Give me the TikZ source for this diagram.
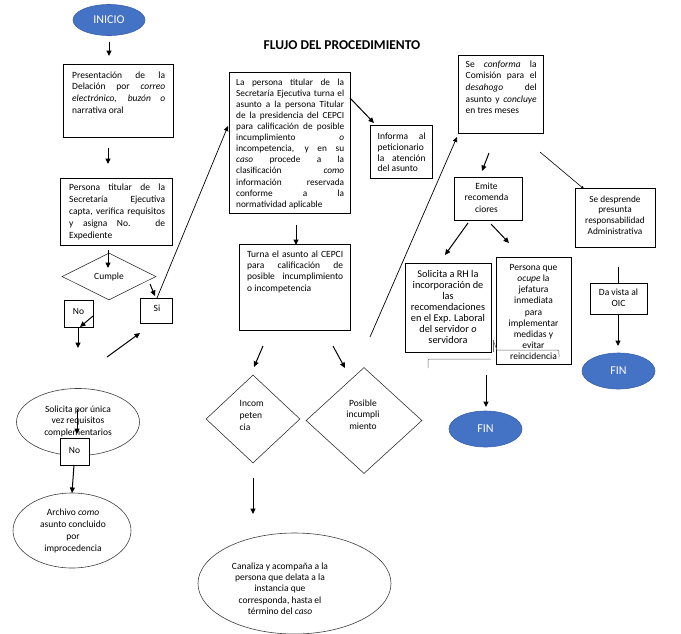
\documentclass[tikz,border=0pt]{standalone}
\usepackage{fontspec}
\setmainfont{Carlito}
\usetikzlibrary{shapes.geometric,arrows.meta}
\definecolor{termblue}{HTML}{4472C4}
\definecolor{termedge}{HTML}{3A62AA}
\newcommand{\fsz}[1]{\fontsize{9.5}{#1}\selectfont}
\newcommand{\fszs}[2]{\fontsize{#1}{#2}\selectfont}
\tolerance=10000
\hbadness=10000
\hfuzz=3pt
\begin{document}
\begin{tikzpicture}[x=1pt,y=-1pt,
  box/.style={draw=black,line width=0.8pt,inner sep=0,anchor=north west},
  txt/.style={inner sep=0,anchor=north west,align=justify,font=\fsz{11.3}},
  ctxt/.style={inner sep=0,anchor=north,align=center,font=\fsz{11.3}},
  lbl/.style={inner sep=0,font=\fsz{11}},
  arr/.style={line width=1pt,-{Triangle[length=5.5pt,width=5pt]}},
  thinarr/.style={line width=0.7pt,-{Triangle[length=5pt,width=4.5pt]}},
  dia/.style={diamond,draw=black!85,line width=0.55pt,inner sep=0},
  oval/.style={ellipse,draw=black!75,line width=0.6pt,inner sep=0},
  term/.style={ellipse,fill=termblue,draw=termedge,line width=0.6pt,text=white,font=\fontsize{12}{14}\selectfont,inner sep=0},
  glitch/.style={draw=black!60,line width=0.5pt}
]
\useasboundingbox[fill=white] (0,0) rectangle (681,633);

% title
\node[font=\bfseries\fontsize{13.5}{15}\selectfont,inner sep=0] (title) at (342,45) {FLUJO DEL PROCEDIMIENTO};

% left column
\node[term,minimum width=72,minimum height=31] (inicio) at (109,20) {INICIO};

\node[box,minimum width=110,minimum height=73] (b1) at (63,64) {};
\node[txt,text width=93,font=\fsz{11.7}] (b1t) at (72,71.3) {Presentación de la\linebreak Delación por \textit{correo}\linebreak \textit{electrónico, buzón o}\linebreak narrativa oral};

\node[box,minimum width=112,minimum height=67] (b2) at (60,178) {};
\node[txt,text width=96,font=\fsz{12.2}] (b2t) at (69,183.3) {Persona titular de la\linebreak Secretaría Ejecutiva\linebreak capta, verifica requisitos\linebreak y asigna No. de\linebreak Expediente};

\node[dia,minimum width=94,minimum height=47,font=\fsz{11}] (cumple) at (109,276.5) {Cumple};

\node[box,minimum width=32,minimum height=25] (si) at (140,298) {};
\node[lbl] (sit) at (157,308.5) {Si};
\node[box,minimum width=29,minimum height=27] (no1) at (64,300) {};
\node[lbl] (no1t) at (78.5,311.5) {No};

\node[oval,minimum width=123,minimum height=67] (sol) at (78,422) {};
\node[ctxt,font=\fsz{11.5}] (solt) at (78,405.3) {Solicita por única\\ vez requisitos\\ complementarios};
\node[box,minimum width=29,minimum height=27,fill=white] (no2) at (60,438) {};
\node[lbl] (no2t) at (74.5,450) {No};

\node[oval,minimum width=118,minimum height=75] (arch) at (72,530.5) {};
\node[ctxt,font=\fsz{12}] (archt) at (73,508.3) {Archivo \textit{como}\\ asunto concluido\\ por\\ improcedencia};

% centre column
\node[box,minimum width=121,minimum height=141] (b3) at (229,72) {};
\node[txt,text width=108,font=\fszs{9.3}{11.1}] (b3t) at (236,78.5) {La persona titular de la\linebreak Secretaría Ejecutiva turna el\linebreak asunto a la persona Titular\linebreak de la presidencia del CEPCI\linebreak para calificación de posible\linebreak incumplimiento \textit{o}\linebreak incompetencia, y en su\linebreak \textit{caso} procede a la\linebreak clasificación \textit{como}\linebreak información reservada\linebreak conforme a la\linebreak normatividad aplicable};

\node[box,minimum width=62,minimum height=53] (inf) at (370,125) {};
\node[txt,text width=48,font=\fsz{10.8}] (inft) at (377.5,132.7) {Informa al\linebreak peticionario\linebreak la atención\linebreak del asunto};

\node[box,minimum width=111,minimum height=86] (b4) at (239,244) {};
\node[txt,text width=96,font=\fsz{11.3}] (b4t) at (247,250.3) {Turna el asunto al CEPCI\linebreak para calificación de\linebreak posible incumplimiento\linebreak o incompetencia};

\node[dia,minimum width=94,minimum height=88] (d1) at (253,419) {};
\node[inner sep=0,anchor=north west,align=left,font=\fsz{11.8}] (d1t) at (239.5,400.3) {Incom\\ peten\\ cia};

\node[dia,minimum width=116,minimum height=106] (d2) at (364,420.5) {};
\node[ctxt,font=\fsz{11.5}] (d2t) at (363,399.3) {Posible\\ incumpli\\ miento};

\node[oval,minimum width=193,minimum height=101] (can) at (294.5,583.5) {};
\node[ctxt,font=\fsz{11.4}] (cant) at (280,562.3) {Canaliza y acompaña a la\\ persona que delata a la\\ instancia que\\ corresponda, hasta el\\ término del \textit{caso}};

% right column
\node[box,minimum width=85,minimum height=78] (conf) at (458,55) {};
\node[txt,text width=71,font=\fsz{11.7}] (conft) at (465.5,60.3) {Se \textit{conforma} la\linebreak Comisión para el\linebreak \textit{desahogo} del\linebreak asunto y \textit{concluye}\linebreak en tres meses};

\node[box,minimum width=68,minimum height=43] (emi) at (454,177) {};
\node[ctxt,font=\fsz{11.5}] (emit) at (486.5,182.3) {Emite\\ recomenda\\ ciores};

\node[box,minimum width=86,minimum height=89] (rh) at (405,263) {};
\node[ctxt,font=\fszs{10.3}{11}] (rht) at (448,270.2) {Solicita a RH la\\ incorporación de\\ las\\ recomendaciones\\ en el Exp. Laboral\\ del servidor \textit{o}\\ servidora};

\node[box,minimum width=75,minimum height=107] (per) at (496,257) {};
\node[ctxt,font=\fsz{11.1}] (pert) at (533.5,264.3) {Persona que\\ \textit{ocupe} la\\ jefatura\\ inmediata\\ para\\ implementar\\ medidas y\\ evitar\\ reincidencia};

\node[box,minimum width=80,minimum height=59] (desp) at (575,188) {};
\node[ctxt,font=\fszs{9.3}{10.7}] (despt) at (615,195.5) {Se desprende\\ presunta\\ responsabilidad\\ Administrativa};

\node[box,minimum width=57,minimum height=31] (oic) at (590,283) {};
\node[ctxt,font=\fsz{11}] (oict) at (618.5,288.3) {Da vista al\\ OIC};

\node[term,minimum width=73,minimum height=36] (fin1) at (485.5,429) {FIN};
\node[term,minimum width=73,minimum height=36] (fin2) at (618.5,371) {FIN};

% connector end points
\coordinate (p1a) at (109,42);   \coordinate (p1b) at (109,56);
\coordinate (p2a) at (108,148);  \coordinate (p2b) at (108,164);
\coordinate (p3a) at (108,250);  \coordinate (p3b) at (108,268);
\coordinate (p4a) at (150,284);  \coordinate (p4b) at (155,296);
\coordinate (p5a) at (157,298);  \coordinate (p5b) at (228,126);
\coordinate (p6a) at (93,316);   \coordinate (p6b) at (80,327);
\coordinate (p7a) at (78,327);   \coordinate (p7b) at (78,348);
\coordinate (p8a) at (107,357);  \coordinate (p8b) at (140,333);
\coordinate (p9a) at (77,409);   \coordinate (p9b) at (77,434);
\coordinate (p10a) at (74,465);  \coordinate (p10b) at (72,493);
\coordinate (p11a) at (350,98);  \coordinate (p11b) at (374,123);
\coordinate (p12a) at (296,225); \coordinate (p12b) at (296,245);
\coordinate (p13a) at (263,346); \coordinate (p13b) at (254,367);
\coordinate (p14a) at (333,346); \coordinate (p14b) at (345,368);
\coordinate (p15a) at (253,478); \coordinate (p15b) at (253,514);
\coordinate (p16a) at (370,337); \coordinate (p16b) at (457,137);
\coordinate (p17a) at (489,153); \coordinate (p17b) at (482,171);
\coordinate (p18a) at (468,223); \coordinate (p18b) at (445,255);
\coordinate (p19a) at (491,224); \coordinate (p19b) at (509,243);
\coordinate (p20a) at (540,152); \coordinate (p20b) at (584,189);
\coordinate (p21a) at (618,267);
\coordinate (p22a) at (618,314); \coordinate (p22b) at (618,346);
\coordinate (p23a) at (486,375); \coordinate (p23b) at (486,407);

\draw[arr] (p1a) -- (p1b);
\draw[arr] (p2a) -- (p2b);
\draw[arr] (p3a) -- (p3b);
\draw[arr] (p4a) -- (p4b);
\draw[thinarr] (p5a) -- (p5b);
\draw[arr] (p6a) -- (p6b);
\draw[arr] (p7a) -- (p7b);
\draw[arr] (p8a) -- (p8b);
\draw[arr] (p9a) -- (p9b);
\draw[arr] (p10a) -- (p10b);
\draw[arr] (p11a) -- (p11b);
\draw[arr] (p12a) -- (p12b);
\draw[arr] (p13a) -- (p13b);
\draw[arr] (p14a) -- (p14b);
\draw[arr] (p15a) -- (p15b);
\draw[thinarr] (p16a) -- (p16b);
\draw[arr] (p17a) -- (p17b);
\draw[arr] (p18a) -- (p18b);
\draw[arr] (p19a) -- (p19b);
\draw[line width=0.6pt,-{Triangle[length=3pt,width=3pt]}] (p20a) -- (p20b);
\draw[line width=0.9pt] (p21a) -- (oic.north -| p21a);
\draw[arr] (p22a) -- (p22b);
\draw[arr] (p23a) -- (p23b);

% stray text-frame marks
\draw[glitch] (428,368) -- (428,363) .. controls (428,359) .. (432,359) -- (491,359);
\draw[glitch] (493,340) -- (493,352);
\draw[glitch] (493,340) -- (497,350) -- (557,350) .. controls (559,350) .. (559,357);
\end{tikzpicture}
\end{document}
